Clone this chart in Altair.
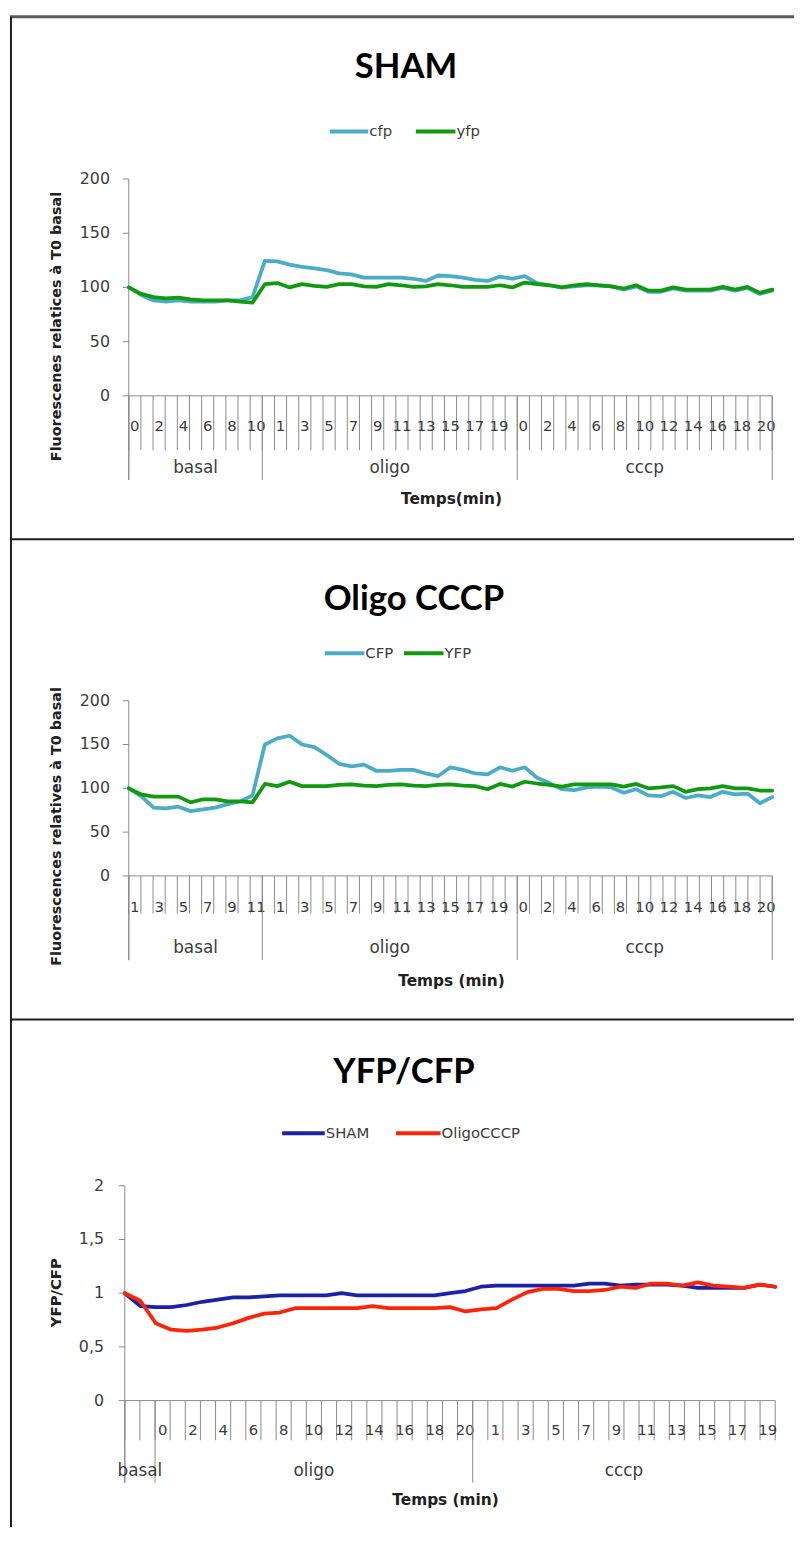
import altair as alt
import pandas as pd

TITLE_FONT = "Lato"
FONT = "DejaVu Sans"
AXIS_GREY = "#8a8a8a"
TEXT_GREY = "#3c3c3c"
W = 792
H_TOTAL = 1526

# ---------------- data ----------------
groups = ["basal", "oligo", "cccp"]

# Panel 1 : SHAM
sham_title = "SHAM"
sham_names = ["cfp", "yfp"]
sham_colors = ["#4BACC6", "#129912"]
sham_basal_lab = ["0", "1", "2", "3", "4", "5", "6", "7", "8", "9", "10"]
sham_oligo_lab = ["0", "1", "2", "3", "4", "5", "6", "7", "8", "9", "10",
                  "11", "12", "13", "14", "15", "16", "17", "18", "19", "20"]
sham_cccp_lab = ["0", "1", "2", "3", "4", "5", "6", "7", "8", "9", "10",
                 "11", "12", "13", "14", "15", "16", "17", "18", "19", "20"]
sham_cfp = [100, 93, 88, 87, 88, 87, 87, 87, 88, 88, 91,
            124.5, 124, 121, 119, 117.5, 116, 113, 112, 109, 109,
            109, 109, 108, 106, 111, 110.5, 109, 107, 106, 110,
            108, 110.5, 104, 102, 100, 101, 102, 102, 101, 98,
            101, 96, 96, 99, 97, 97, 97, 99.5, 97, 99.5,
            94, 97]
sham_yfp = [100, 94, 91, 90, 90.5, 89, 88, 88, 88, 87, 86,
            103, 104, 100, 103, 101.5, 100.5, 103, 103, 101, 100.5,
            103, 102, 100.5, 101, 103, 102, 100.5, 100.5, 100.5, 102,
            100, 104.5, 103, 102, 100, 102, 103, 102, 101, 99,
            102, 97, 97, 100, 98, 98, 98, 100.5, 98, 100.5,
            95, 98]
fluo_yticks = [0, 50, 100, 150, 200]
fluo_ylabels = ["0", "50", "100", "150", "200"]

# Panel 2 : Oligo CCCP
oligo_title = "Oligo CCCP"
oligo_names = ["CFP", "YFP"]
oligo_colors = ["#4BACC6", "#129912"]
oligo_basal_lab = ["1", "2", "3", "4", "5", "6", "7", "8", "9", "10", "11"]
oligo_oligo_lab = ["0", "1", "2", "3", "4", "5", "6", "7", "8", "9", "10",
                   "11", "12", "13", "14", "15", "16", "17", "18", "19", "20"]
oligo_cccp_lab = ["0", "1", "2", "3", "4", "5", "6", "7", "8", "9", "10",
                  "11", "12", "13", "14", "15", "16", "17", "18", "19", "20"]
oligo_cfp = [100, 91, 78, 77, 79, 74, 76, 78, 82, 85, 92,
             150, 157, 160, 150, 147, 138, 128, 125, 127, 120,
             120, 121, 121, 117, 114, 124, 121, 117, 116, 124,
             120, 124, 112, 106, 99, 98, 101, 102, 101, 95,
             99, 92, 91, 96, 89, 92, 90, 96, 93, 94,
             83, 90]
oligo_yfp = [100, 93, 90.5, 90.5, 90.5, 84, 87.5, 87.5, 85, 85, 84,
             105, 102.5, 107.5, 102.5, 102.5, 102.5, 104, 104.5, 103, 102.5,
             104, 104.5, 103, 102.5, 104, 104.5, 103, 102.5, 99, 105,
             102, 107.5, 105.5, 104, 102, 104.5, 104.5, 104.5, 104.5, 102,
             105, 100, 101, 102.5, 96, 99, 100, 102.5, 100, 100,
             97.5, 97.5]

# Panel 3 : YFP/CFP
ratio_title = "YFP/CFP"
ratio_names = ["SHAM", "OligoCCCP"]
ratio_colors = ["#1C22A6", "#FF2408"]
ratio_basal_lab = ["", ""]
ratio_oligo_lab = ["0", "1", "2", "3", "4", "5", "6", "7", "8", "9", "10",
                   "11", "12", "13", "14", "15", "16", "17", "18", "19", "20"]
ratio_cccp_lab = ["0", "1", "2", "3", "4", "5", "6", "7", "8", "9",
                  "10", "11", "12", "13", "14", "15", "16", "17", "18", "19"]
ratio_sham = [1.0, 0.88, 0.87, 0.87, 0.89, 0.92, 0.94, 0.96, 0.96, 0.97, 0.98,
              0.98, 0.98, 0.98, 1.0, 0.98, 0.98, 0.98, 0.98, 0.98, 0.98,
              1.0, 1.02, 1.06, 1.07, 1.07, 1.07, 1.07, 1.07, 1.07, 1.09,
              1.09, 1.07, 1.08, 1.08, 1.08, 1.07, 1.05, 1.05, 1.05, 1.05,
              1.08, 1.06]
ratio_oligo = [1.0, 0.93, 0.72, 0.66, 0.65, 0.66, 0.68, 0.72, 0.77, 0.81, 0.82,
               0.86, 0.86, 0.86, 0.86, 0.86, 0.88, 0.86, 0.86, 0.86, 0.86,
               0.87, 0.83, 0.85, 0.86, 0.94, 1.01, 1.04, 1.04, 1.02, 1.02,
               1.03, 1.06, 1.05, 1.09, 1.09, 1.07, 1.1, 1.07, 1.06, 1.05,
               1.08, 1.06]
ratio_yticks = [0, 0.5, 1, 1.5, 2]
ratio_ylabels = ["0", "0,5", "1", "1,5", "2"]


# ---------------- helpers ----------------
def one():
    return pd.DataFrame({"k": [0]})


def text_mark(txt, x, y, size, bold=False, angle=None, align="center",
              color="black", font=FONT):
    kw = dict(font=font, fontSize=size, align=align, baseline="middle", color=color)
    if bold:
        kw["fontWeight"] = "bold"
    if angle is not None:
        kw["angle"] = angle
    return alt.Chart(pd.DataFrame({"t": [txt]})).mark_text(**kw).encode(
        x=alt.value(x), y=alt.value(y), text="t:N")


def hrule(xa, xb, y, color, w):
    return alt.Chart(one()).mark_rule(color=color, strokeWidth=w).encode(
        x=alt.value(xa), x2=alt.value(xb), y=alt.value(y))


def vrule(x, ya, yb, color, w):
    return alt.Chart(one()).mark_rule(color=color, strokeWidth=w).encode(
        x=alt.value(x), y=alt.value(ya), y2=alt.value(yb))


def panel_layers(g):
    T = g["top"]
    layers = []
    # frame line on top of the panel
    layers.append(hrule(0, W, T, g["top_color"], g["top_w"]))
    # title
    layers.append(text_mark(g["title"], g["title_x"], T + g["title_y"], 35,
                            bold=True, font=TITLE_FONT))
    # legend
    for name, col, lx0, lx1 in zip(g["names"], g["colors"], g["leg_x0"], g["leg_x1"]):
        layers.append(hrule(lx0, lx1, T + g["leg_y"], col, 4))
        layers.append(text_mark(name, lx1 + 1, T + g["leg_y"], 15, align="left",
                                color=TEXT_GREY))

    x0, x1 = g["x0"], g["x1"]
    yb, yt = T + g["yb"], T + g["yt"]
    ysc = alt.Scale(domain=g["ydom"], range=[yb, yt])

    # y axis
    layers.append(vrule(x0, yt, T + g["sep_end"], AXIS_GREY, 1))
    ydf = pd.DataFrame({"t": g["yticks"], "lab": g["ylabels"]})
    layers.append(alt.Chart(ydf).mark_rule(color=AXIS_GREY).encode(
        y=alt.Y("t:Q", scale=ysc, axis=None), x=alt.value(x0 - 6), x2=alt.value(x0)))
    layers.append(alt.Chart(ydf).mark_text(
        font=FONT, fontSize=16, align="right", baseline="middle", color=TEXT_GREY).encode(
        y=alt.Y("t:Q", scale=ysc, axis=None), x=alt.value(g["ylab_x"]), text="lab:N"))
    layers.append(text_mark(g["ytitle"], g["ytitle_x"], T + g["ytitle_y"], g["ytitle_size"],
                            bold=True, angle=270, color="#202020"))

    # two-level category axis
    subs = g["subs"]
    rows, starts, lens = [], [], []
    i = 0
    for grp, s in zip(groups, subs):
        starts.append(i)
        lens.append(len(s))
        for lab in s:
            rows.append({"i": i, "lab": lab})
            i += 1
    N = i
    xsc = alt.Scale(domain=[0, N], range=[x0, x1])
    layers.append(hrule(x0, x1, yb, AXIS_GREY, 1))
    bdf = pd.DataFrame({"b": list(range(N + 1))})
    layers.append(alt.Chart(bdf).mark_rule(color=AXIS_GREY).encode(
        x=alt.X("b:Q", scale=xsc, axis=None), y=alt.value(yb),
        y2=alt.value(T + g["tick_end"])))
    lab_rows = [{"p": r["i"] + 0.5, "lab": r["lab"]} for r in rows
                if r["i"] % 2 == 0 and r["lab"] != ""]
    layers.append(alt.Chart(pd.DataFrame(lab_rows)).mark_text(
        font=FONT, fontSize=15, align="center", baseline="middle", color=TEXT_GREY).encode(
        x=alt.X("p:Q", scale=xsc, axis=None), y=alt.value(T + g["sub_y"]), text="lab:N"))
    seps = list(starts) + ([N] if g["end_sep"] else [])
    layers.append(alt.Chart(pd.DataFrame({"b": seps})).mark_rule(color=AXIS_GREY).encode(
        x=alt.X("b:Q", scale=xsc, axis=None), y=alt.value(yb),
        y2=alt.value(T + g["sep_end"])))
    gdf = pd.DataFrame({"c": [s + l / 2 for s, l in zip(starts, lens)], "g": groups})
    layers.append(alt.Chart(gdf).mark_text(
        font=FONT, fontSize=17, align="center", baseline="middle", color=TEXT_GREY).encode(
        x=alt.X("c:Q", scale=xsc, axis=None), y=alt.value(T + g["grp_y"]), text="g:N"))
    layers.append(text_mark(g["xtitle"], g["xtitle_x"], T + g["xtitle_y"], 15.5,
                            bold=True, color="#202020"))

    # data lines
    for vals, col in zip(g["series"], g["colors"]):
        n = len(vals)
        lsc = alt.Scale(domain=[0, n - 1], range=[x0, x1])
        ldf = pd.DataFrame({"i": list(range(n)), "v": vals})
        layers.append(alt.Chart(ldf).mark_line(
            color=col, strokeWidth=3.8, strokeJoin="round", strokeCap="round").encode(
            x=alt.X("i:Q", scale=lsc, axis=None),
            y=alt.Y("v:Q", scale=ysc, axis=None)))
    return layers


layers = []
layers += panel_layers(dict(
    top=0, top_color="#5a5a5a", top_w=3,
    title=sham_title, title_x=400, title_y=51,
    names=sham_names, colors=sham_colors, leg_x0=[323, 410], leg_x1=[362, 450], leg_y=116,
    x0=120, x1=770, yb=383, yt=164, ydom=[0, 200],
    yticks=fluo_yticks, ylabels=fluo_ylabels, ylab_x=101,
    ytitle="Fluorescenes relatices à T0 basal", ytitle_x=48, ytitle_y=313, ytitle_size=14.5,
    subs=[sham_basal_lab, sham_oligo_lab, sham_cccp_lab],
    tick_end=438, sub_y=414, sep_end=468, grp_y=456, end_sep=True,
    xtitle="Temps(min)", xtitle_x=446, xtitle_y=487,
    series=[sham_cfp, sham_yfp]))

layers += panel_layers(dict(
    top=528, top_color="#1e1e1e", top_w=2,
    title=oligo_title, title_x=408, title_y=60,
    names=oligo_names, colors=oligo_colors, leg_x0=[318, 398], leg_x1=[358, 438], leg_y=115,
    x0=120, x1=770, yb=340, yt=163, ydom=[0, 200],
    yticks=fluo_yticks, ylabels=fluo_ylabels, ylab_x=101,
    ytitle="Fluorescences relatives à T0 basal", ytitle_x=48, ytitle_y=290, ytitle_size=14.5,
    subs=[oligo_basal_lab, oligo_oligo_lab, oligo_cccp_lab],
    tick_end=378, sub_y=371, sep_end=425, grp_y=413, end_sep=True,
    xtitle="Temps (min)", xtitle_x=446, xtitle_y=446,
    series=[oligo_cfp, oligo_yfp]))

layers += panel_layers(dict(
    top=1013, top_color="#1e1e1e", top_w=2,
    title=ratio_title, title_x=398, title_y=53,
    names=ratio_names, colors=ratio_colors, leg_x0=[275, 390], leg_x1=[318, 435], leg_y=115,
    x0=116, x1=773, yb=385, yt=168, ydom=[0, 2],
    yticks=ratio_yticks, ylabels=ratio_ylabels, ylab_x=95,
    ytitle="YFP/CFP", ytitle_x=47, ytitle_y=276, ytitle_size=15,
    subs=[ratio_basal_lab, ratio_oligo_lab, ratio_cccp_lab],
    tick_end=425, sub_y=415, sep_end=468, grp_y=456, end_sep=False,
    xtitle="Temps (min)", xtitle_x=440, xtitle_y=485,
    series=[ratio_sham, ratio_oligo]))

# left frame line through all panels
layers.append(vrule(1, 0, H_TOTAL, "#1e1e1e", 2))

chart = alt.layer(*layers).resolve_scale(x="independent", y="independent").properties(
    width=W, height=H_TOTAL,
    autosize=alt.AutoSizeParams(type="none"),
    padding={"left": 2, "top": 1, "right": 0, "bottom": 0},
).configure_view(stroke=None)

chart.save("out.html", embed_options={"renderer": "svg", "actions": False})
